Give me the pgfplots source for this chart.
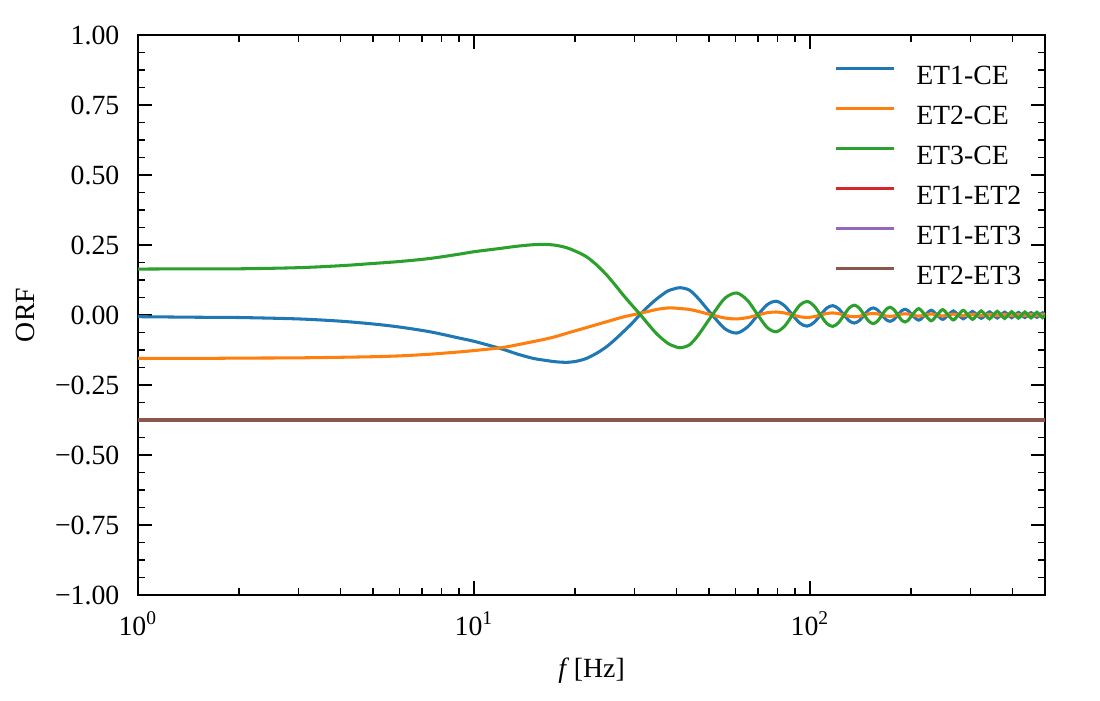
\documentclass[border=0pt]{standalone}
\usepackage{fontspec}
\setmainfont{Liberation Serif}
\usepackage{pgfplots}
\usepackage{pgfplotstable}
\pgfplotsset{compat=1.18}

\definecolor{c0}{HTML}{1F77B4}
\definecolor{c1}{HTML}{FF7F0E}
\definecolor{c2}{HTML}{2CA02C}
\definecolor{c3}{HTML}{D62728}
\definecolor{c4}{HTML}{9467BD}
\definecolor{c5}{HTML}{8C564B}

% f [Hz], ORF of ET1-CE, ET2-CE, ET3-CE
\pgfplotstableread{
f       a        b        c
1       -0.006   -0.155   0.164
1.5     -0.008   -0.155   0.165
2       -0.009   -0.154   0.165
3       -0.014   -0.153   0.169
4       -0.022   -0.151   0.176
5       -0.032   -0.149   0.184
6       -0.043   -0.146   0.191
7.4     -0.060   -0.140   0.202
9       -0.082   -0.132   0.217
10      -0.094   -0.127   0.226
12      -0.120   -0.117   0.238
13.5    -0.140   -0.106   0.246
15      -0.155   -0.095   0.251
16.3    -0.162   -0.086   0.252
17.5    -0.167   -0.077   0.249
18.9    -0.169   -0.065   0.240
20.2    -0.165   -0.055   0.226
21.6    -0.155   -0.045   0.208
23.2    -0.136   -0.034   0.178
24.8    -0.113   -0.024   0.143
26.3    -0.087   -0.015   0.107
27.8    -0.060   -0.007   0.071
29.5    -0.030   0.000    0.035
31.2    0.002    0.006    0.002
33      0.031    0.013    -0.033
35      0.058    0.020    -0.068
37.6    0.085    0.025    -0.100
39.3    0.093    0.025    -0.111
41      0.0975   0.023    -0.117
43.7    0.089    0.020    -0.107
46.44   0.0594   0.0129   -0.0723
51.13   0        0        0
55.81   -0.0494  -0.0108  0.0602
60.5    -0.0645  -0.0140  0.0785
65.19   -0.0423  -0.0092  0.0515
69.88   0        0        0
74.56   0.0370   0.0081   -0.0450
79.25   0.0492   0.0107   -0.0599
83.94   0.0329   0.0072   -0.0400
88.63   0        0        0
93.31   -0.0296  -0.0064  0.0360
98.0    -0.0398  -0.0087  0.0485
102.69  -0.0269  -0.0059  0.0327
107.38  0        0        0
112.06  0.0246   0.0054   -0.0300
116.75  0.0334   0.0073   -0.0407
121.44  0.0227   0.0049   -0.0277
126.13  0        0        0
130.81  -0.0211  -0.0046  0.0257
135.5   -0.0288  -0.0063  0.0351
140.19  -0.0197  -0.0043  0.0240
144.88  0        0        0
149.56  0.0184   0.0040   -0.0225
154.25  0.0253   0.0055   -0.0308
158.94  0.0174   0.0038   -0.0211
163.63  0        0        0
168.31  -0.0164  -0.0036  0.0200
173.0   -0.0225  -0.0049  0.0275
177.69  -0.0155  -0.0034  0.0189
182.38  0        0        0
187.06  0.0147   0.0032   -0.0180
191.75  0.0203   0.0044   -0.0248
196.44  0.0140   0.0031   -0.0171
201.13  0        0        0
210.5   -0.0185  -0.0040  0.0226
219.88  0        0        0
229.25  0.0170   0.0037   -0.0207
238.63  0        0        0
248.0   -0.0157  -0.0034  0.0192
257.38  0        0        0
266.75  0.0146   0.0032   -0.0178
276.13  0        0        0
285.5   -0.0137  -0.0030  0.0166
294.88  0        0        0
304.25  0.0128   0.0028   -0.0156
313.63  0        0        0
323.0   -0.0121  -0.0026  0.0147
332.38  0        0        0
341.75  0.0114   0.0025   -0.0139
351.13  0        0        0
360.5   -0.0108  -0.0024  0.0132
369.88  0        0        0
379.25  0.0103   0.0022   -0.0125
388.63  0        0        0
398.0   -0.0098  -0.0021  0.0119
407.38  0        0        0
416.75  0.0094   0.0020   -0.0114
426.13  0        0        0
435.5   -0.0090  -0.0020  0.0109
444.88  0        0        0
454.25  0.0086   0.0019   -0.0105
463.63  0        0        0
473.0   -0.0082  -0.0018  0.0100
482.38  0        0        0
491.75  0.0079   0.0017   -0.0097
501.13  0        0        0
}\orftable

\begin{document}
\begin{tikzpicture}
\begin{axis}[
    scale only axis,
    width=326.5pt,
    height=201.6pt,
    xmode=log,
    xmin=1, xmax=500,
    ymin=-1, ymax=1,
    xtick={1,10,100},
    xticklabels={10\textsuperscript{0},10\textsuperscript{1},10\textsuperscript{2}},
    minor xtick={2,3,4,5,6,7,8,9,20,30,40,50,60,70,80,90,200,300,400},
    ytick={-1,-0.75,-0.5,-0.25,0,0.25,0.5,0.75,1},
    yticklabels={−1.00,−0.75,−0.50,−0.25,0.00,0.25,0.50,0.75,1.00},
    minor y tick num=3,
    tick align=inside,
    xtick pos=both, ytick pos=both,
    xticklabel pos=lower, yticklabel pos=left,
    major tick length=5pt,
    minor tick length=2.6pt,
    every tick/.style={black, line width=0.6pt},
    axis line style={line width=0.6pt},
    xticklabel style={anchor=base, yshift=-14.4pt},
    yticklabel style={anchor=east, xshift=-3.2pt},
    xlabel={\textit{f}\,[Hz]},
    xlabel style={at={(axis description cs:0.5,-0.148)}, anchor=base},
    ylabel={ORF},
    ylabel style={at={(axis description cs:-0.124,0.5)}, anchor=center},
    legend cell align=left,
    legend style={draw=none, fill=none, at={(axis description cs:0.9835,0.9577)},
        anchor=north east, row sep=5.4pt, column sep=7.6pt,
        nodes={inner sep=0pt, text height=7pt, text depth=2pt}},
    legend image code/.code={\draw[#1] (0pt,3.3pt) -- (20.9pt,3.3pt);},
    every axis plot/.append style={line width=1.1pt},
]
\addplot[c0, smooth] table[x=f, y=a] {\orftable};
\addlegendentry{ET1-CE}
\addplot[c1, smooth] table[x=f, y=b] {\orftable};
\addlegendentry{ET2-CE}
\addplot[c2, smooth] table[x=f, y=c] {\orftable};
\addlegendentry{ET3-CE}
\addplot[c3] coordinates {(1,-0.375) (500,-0.375)};
\addlegendentry{ET1-ET2}
\addplot[c4] coordinates {(1,-0.375) (500,-0.375)};
\addlegendentry{ET1-ET3}
\addplot[c5] coordinates {(1,-0.375) (500,-0.375)};
\addlegendentry{ET2-ET3}
\end{axis}
\pgfresetboundingbox
\path (-49.7pt,-37.8pt) rectangle (346.3pt,214.2pt);
\end{tikzpicture}
\end{document}
